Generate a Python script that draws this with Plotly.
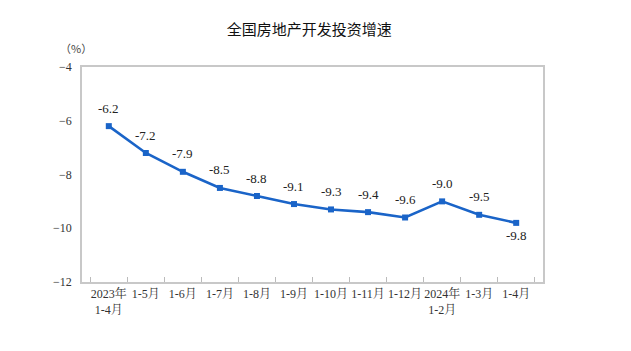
import plotly.graph_objects as go

categories = ["2023年<br>1-4月", "1-5月", "1-6月", "1-7月", "1-8月", "1-9月", "1-10月",
              "1-11月", "1-12月", "2024年<br>1-2月", "1-3月", "1-4月"]
values = [-6.2, -7.2, -7.9, -8.5, -8.8, -9.1, -9.3, -9.4, -9.6, -9.0, -9.5, -9.8]
labels = ["-6.2", "-7.2", "-7.9", "-8.5", "-8.8", "-9.1", "-9.3", "-9.4", "-9.6", "-9.0", "-9.5", "-9.8"]
label_below = [False] * 11 + [True]
y_ticks = [-12, -10, -8, -6, -4]

font_family = "Liberation Serif, Noto Serif CJK SC, Noto Sans CJK SC, serif"
line_color = "#1a64c8"

fig = go.Figure(go.Scatter(
    x=categories, y=values, mode="lines+markers",
    line=dict(color=line_color, width=2.6),
    marker=dict(symbol="square", size=6, color=line_color),
    cliponaxis=False, showlegend=False,
))

annotations = [dict(text="（%）", x=-0.012, xref="paper", y=1.09, yref="paper", showarrow=False,
                    xanchor="center", yanchor="middle",
                    font=dict(size=11, family="Noto Sans CJK SC, sans-serif", color="#444"))]
for c, v, t, below in zip(categories, values, labels, label_below):
    annotations.append(dict(x=c, y=v, text=t, showarrow=False, xanchor="center", yanchor="middle",
                            yshift=-13 if below else 18,
                            font=dict(size=13, family=font_family, color="#222")))

fig.update_layout(
    width=631, height=351,
    margin=dict(l=82, r=88, t=67, b=69),
    paper_bgcolor="white", plot_bgcolor="white",
    font=dict(family=font_family, color="#222", size=12),
    title=dict(text="全国房地产开发投资增速", x=0.49, xanchor="center", y=0.915, yanchor="middle",
               font=dict(size=15, family="Noto Sans CJK SC, sans-serif", color="#111")),
    annotations=annotations,
)

fig.update_xaxes(
    type="category", tickson="boundaries", ticks="inside", ticklen=5, tickcolor="#bbb",
    showline=True, linecolor="#c8c8c8", linewidth=1.5, mirror=True, showgrid=False,
    tickfont=dict(size=12, family=font_family, color="#333"), tickangle=0,
)
fig.update_yaxes(
    range=[-12, -4], tickvals=y_ticks, ticks="", showgrid=False, zeroline=False,
    showline=True, linecolor="#c8c8c8", linewidth=1.5, mirror=True,
    tickfont=dict(size=12, family=font_family, color="#333"), ticklabelstandoff=6,
)

fig.write_html("out.html")
